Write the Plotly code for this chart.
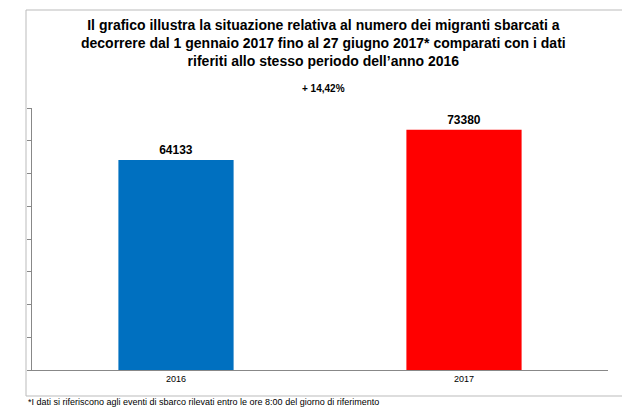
import plotly.graph_objects as go

anni = ["2016", "2017"]
sbarcati = [64133, 73380]
colori = ["#0070C0", "#FF0000"]
etichette = ["<b>64133</b>", "<b>73380</b>"]

W, H = 630, 414
L, R, T, B = 24, 30, 100, 52
pw, ph = W - L - R, H - T - B


def px(x):
    return (x - L) / pw


def py(y):
    return (H - B - y) / ph


fig = go.Figure(go.Bar(
    x=anni, y=sbarcati, marker=dict(color=colori, line=dict(width=0)),
    text=etichette, textposition="outside", cliponaxis=False,
    textfont=dict(family="Liberation Sans", size=12, color="black"),
))

fig.update_layout(
    width=W, height=H, margin=dict(l=L, r=R, t=T, b=B, autoexpand=False),
    paper_bgcolor="white", plot_bgcolor="white",
    bargap=0.6, showlegend=False, uniformtext=dict(minsize=12, mode="show"),
    font=dict(family="Liberation Sans", color="black"),
    xaxis=dict(showline=True, linecolor="#888", linewidth=1,
               tickfont=dict(size=9), ticks=""),
    yaxis=dict(range=[0, 80000], dtick=10000, showgrid=False,
               showline=True, linecolor="#888", linewidth=1,
               ticks="outside", ticklen=4, tickcolor="#888",
               showticklabels=False, zeroline=False),
    shapes=[dict(type="rect", xref="paper", yref="paper",
                 x0=px(18), x1=px(626), y0=py(388), y1=py(2),
                 line=dict(color="#bbb", width=1))],
    annotations=[
        dict(text="<b>Il grafico illustra la situazione relativa al numero dei migranti sbarcati a<br>"
                  "decorrere dal 1 gennaio 2017 fino al 27 giugno 2017* comparati con i dati<br>"
                  "riferiti allo stesso periodo dell’anno 2016</b>",
             xref="paper", yref="paper", x=px(315), y=py(7), yanchor="top",
             showarrow=False, font=dict(size=14)),
        dict(text="<b>+ 14,42%</b>", xref="paper", yref="paper",
             x=px(315), y=py(73), showarrow=False, font=dict(size=10)),
        dict(text="*I dati si riferiscono agli eventi di sbarco rilevati entro le ore 8:00 del giorno di riferimento",
             xref="paper", yref="paper", x=px(18), xanchor="left",
             y=py(401), showarrow=False, font=dict(size=9)),
    ],
)

fig.write_html("out.html")
